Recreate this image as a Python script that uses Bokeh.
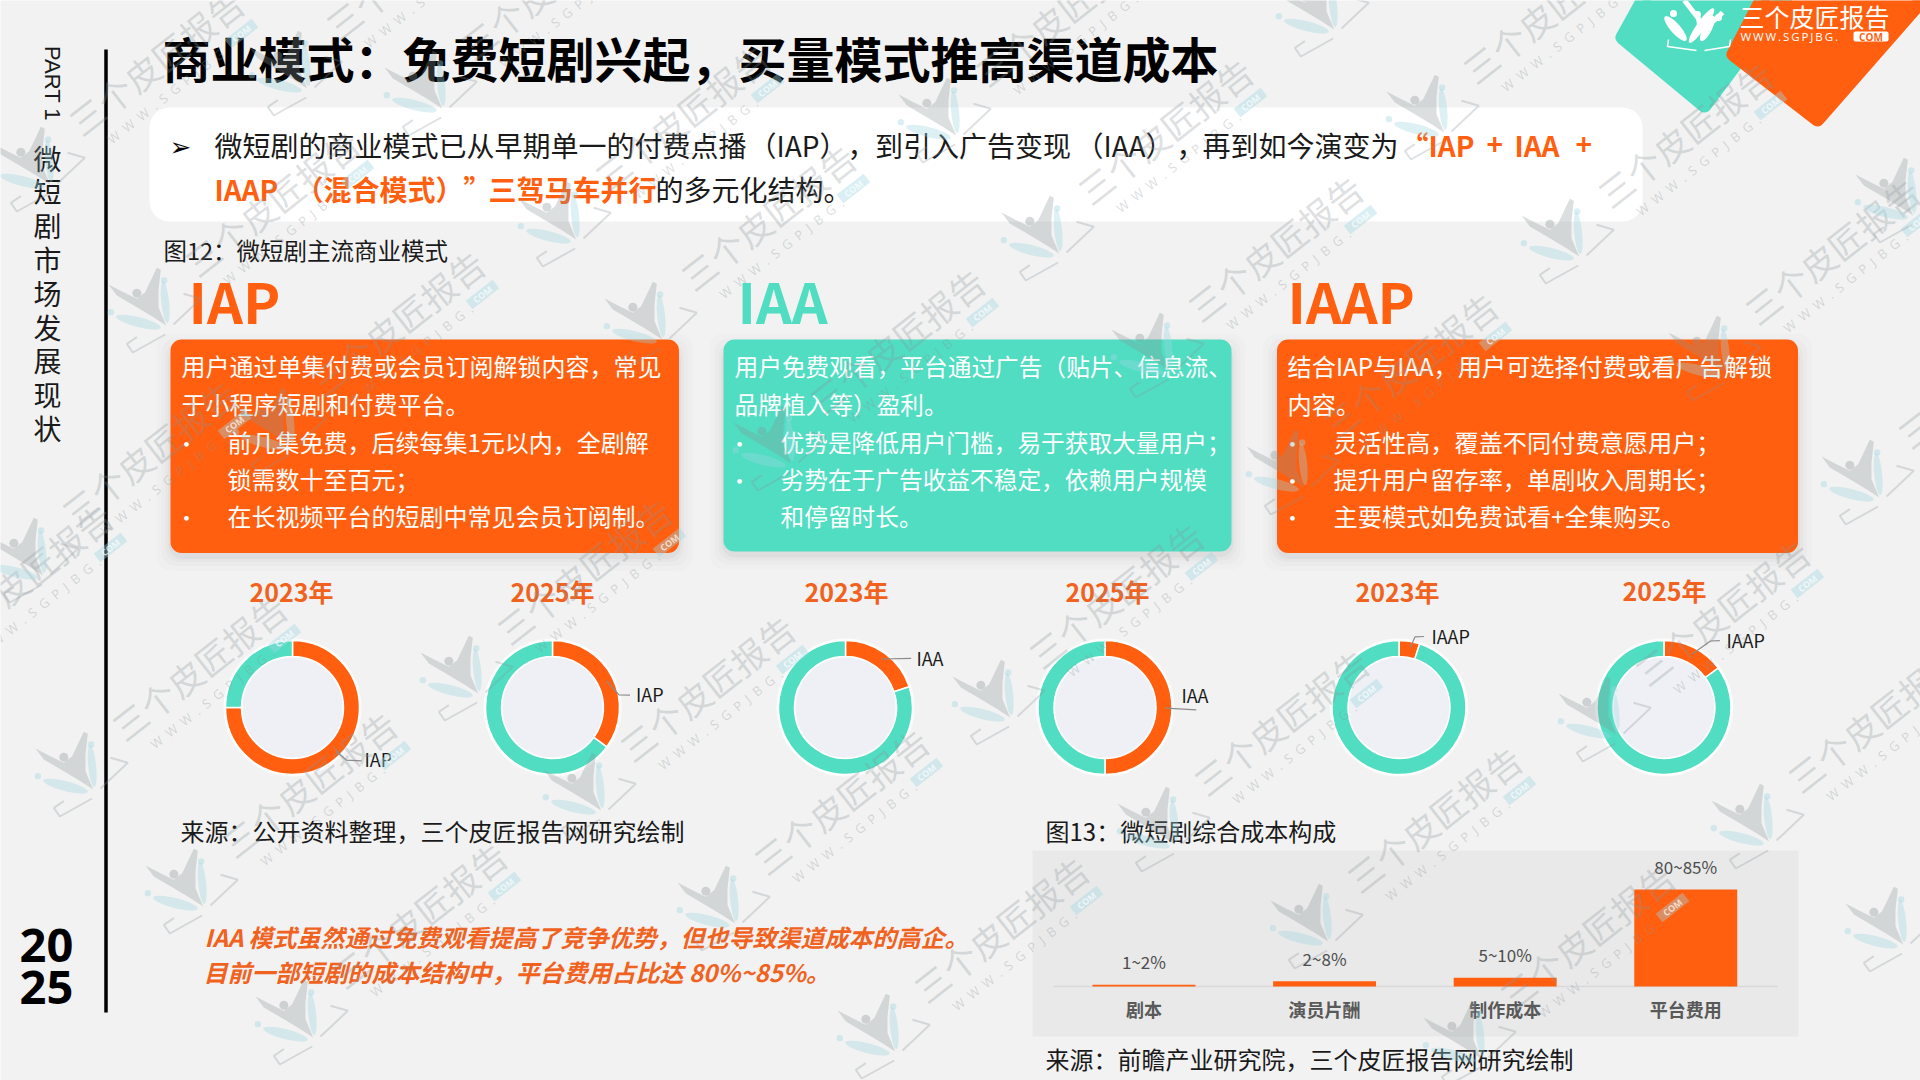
import math
from bokeh.plotting import figure
from bokeh.models import Range1d
from bokeh.core.properties import value
from bokeh.embed import file_html
from bokeh.resources import INLINE

# donuts: share of the orange slice, in percent
donut_modes = ["IAP", "IAP", "IAA", "IAA", "IAAP", "IAAP"]
donut_years = ["2023年", "2025年", "2023年", "2025年", "2023年", "2025年"]
donut_shares = [75, 35, 20, 50, 5, 15]

# cost bars
cost_names = ["剧本", "演员片酬", "制作成本", "平台费用"]
cost_labels = ["1~2%", "2~8%", "5~10%", "80~85%"]
cost_values = [1.5, 4.5, 7.5, 82.5]

title = "商业模式：免费短剧兴起，买量模式推高渠道成本"
side_chars = list("微短剧市场发展现状")
iap_lines = ["用户通过单集付费或会员订阅解锁内容，常见", "于小程序短剧和付费平台。",
             "前几集免费，后续每集1元以内，全剧解", "锁需数十至百元；", "在长视频平台的短剧中常见会员订阅制。"]
iaa_lines = ["用户免费观看，平台通过广告（贴片、信息流、", "品牌植入等）盈利。",
             "优势是降低用户门槛，易于获取大量用户；", "劣势在于广告收益不稳定，依赖用户规模", "和停留时长。"]
iaap_lines = ["结合IAP与IAA，用户可选择付费或看广告解锁", "内容。",
              "灵活性高，覆盖不同付费意愿用户；", "提升用户留存率，单剧收入周期长；", "主要模式如免费试看+全集购买。"]

ORANGE = "#FF5F0F"
TEAL = "#50DDC2"
CJK = "Noto Sans CJK SC"

p = figure(width=1920, height=1080, x_range=(0, 1920), y_range=(1080, 0),
           x_axis_location=None, y_axis_location=None,
           output_backend="svg", toolbar_location=None, min_border=0,
           background_fill_color="#F2F2F2", border_fill_color="#F2F2F2")
p.grid.visible = False
p.outline_line_color = None
# the bars get their own scales
p.extra_x_ranges["cost_x"] = Range1d(-6.332, 4.300)
p.extra_y_ranges["cost_y"] = Range1d(-79.93, 838.44)


def label(x, y, s, size, color="#1A1A1A", style="normal", align="left", font=CJK, angle=0, alpha=1.0):
    # middle baseline of the CJK font sits a little low
    p.text(x=[x], y=[y - 3], text=[s], text_font=value(font), text_font_size="%spx" % size,
           text_color=color, text_font_style=style, text_align=align, text_baseline="middle",
           angle=angle, text_alpha=alpha)


def card(left, right, top, bottom, color):
    for grow, a in [(14, 0.012), (9, 0.016), (5, 0.02), (2, 0.03)]:
        p.quad(left=left - grow, right=right + grow, top=top - grow + 8, bottom=bottom + grow + 4,
               fill_color="#000000", fill_alpha=a, line_color=None, border_radius=14)
    p.quad(left=left, right=right, top=top, bottom=bottom, fill_color=color, line_color=None, border_radius=11)


# logo corner
p.patch([1648, 1622, 1704, 1790], [-10, 37, 105, -10], fill_color=TEAL, line_color=TEAL, line_width=14, line_join="round")
p.patch([1766, 1733, 1817, 1930], [-10, 54, 119, -10], fill_color=ORANGE, line_color=ORANGE, line_width=14, line_join="round")
p.ellipse(x=[1675, 1707, 1701], y=[28, 28, 25], width=[32, 28, 42], height=[10, 9, 9],
          angle=[-0.85, 1.1, 0.95], fill_color="#FFFFFF", line_color=None)
p.multi_line([[1684, 1698, 1700], [1700, 1716, 1722]], [[0, 18, 30], [30, 18, 12]], line_color="#FFFFFF", line_width=5)
p.circle(x=[1673, 1697, 1718], y=[13, 14, 17], radius=3.5, fill_color="#FFFFFF", line_color=None)
p.multi_line([[1668, 1667, 1696], [1730, 1729, 1704]], [[39, 46, 50], [39, 46, 50]], line_color="#FFFFFF", line_width=1.5)
label(1739, 18, "三个皮匠报告", 25, "#FFFFFF")
label(1740, 39, "W\u2009W\u2009W\u2009.\u2009S\u2009G\u2009P\u2009J\u2009B\u2009G\u2009.", 11.5, "#FFFFFF", font="Open Sans")
p.quad(left=1853, right=1888, top=31, bottom=41, fill_color="#FFFFFF", line_color=None, border_radius=2)
label(1870.5, 39, "COM", 10, ORANGE, "bold", "center", "Open Sans")

# left rail
p.segment(x0=[105.5], y0=[49], x1=[105.5], y1=[1012], line_color="#000000", line_width=3.5)
label(52, 86, "PART 1", 22, "#1A1A1A", align="center", font="Liberation Sans", angle=-math.pi / 2)
for i, ch in enumerate(side_chars):
    label(47, 160 + 33.8 * i, ch, 28, align="center")
label(46, 948, "20", 47, "#000000", "bold", "center", "Noto Sans")
label(46, 990, "25", 47, "#000000", "bold", "center", "Noto Sans")

# heading
label(162, 59, title, 48, "#000000", "bold")
p.quad(left=149, right=1642, top=107, bottom=221, fill_color="#FFFFFF", line_color=None, border_radius=20)
label(180, 149, "➢", 26, "#000000", align="center", font="DejaVu Sans")
for x, s in [(214, "微短剧的商业模式已从早期单一的付费点播"), (748, "（IAP）"), (847, "，"), (874.5, "到引入广告变现"),
             (1075, "（IAA）"), (1176, "，"), (1202, "再到如今演变为")]:
    label(x, 147, s, 28)
for x, s in [(1400, "“IAP"), (1486, "+"), (1514, "IAA"), (1575, "+")]:
    label(x, 147, s, 28, ORANGE, "bold")
for x, s in [(214, "IAAP"), (295, "（混合模式）"), (463, "”"), (488, "三驾马车并行")]:
    label(x, 191, s, 28, ORANGE, "bold")
label(655, 191, "的多元化结构。", 28)
label(163, 252, "图12：微短剧主流商业模式", 23.5)

# three mode cards
for x, name, color in [(188, "IAP", ORANGE), (737, "IAA", TEAL), (1287, "IAAP", ORANGE)]:
    label(x, 302, name, 56, color, "bold")
card(170, 678.5, 339, 552.5, ORANGE)
card(723, 1231, 339, 551, TEAL)
card(1276.5, 1797.5, 339, 552.5, ORANGE)

line_y = [368, 406, 444, 481, 518]
# bullets sit on the lines listed for each card
for x0, lines, bullet_rows, size in [(181, iap_lines, [2, 4], 24), (734, iaa_lines, [2, 3], 23.7), (1287, iaap_lines, [2, 3, 4], 24.2)]:
    for row, line in enumerate(lines):
        indented = row >= 2
        label(x0 + 46 if indented else x0, line_y[row], line, size, "#FFFFFF")
    for row in bullet_rows:
        label(x0 + 5, line_y[row], "•", 22, "#FFFFFF", align="center")

# donuts
donut_x = [292, 552, 845, 1104.5, 1398.5, 1663.5]
donut_cy = 707
year_x = [291, 552, 846, 1107, 1397, 1664]
year_y = [593, 593, 593, 593, 593, 592]
start = math.pi / 2
for cx, share, year, yx, yy in zip(donut_x, donut_shares, donut_years, year_x, year_y):
    mid = start - 2 * math.pi * share / 100
    p.circle(x=[cx], y=[donut_cy], radius=69, fill_color="#FFFFFF", fill_alpha=0.75, line_color=None)
    p.annular_wedge(x=[cx], y=[donut_cy], inner_radius=51, outer_radius=67, start_angle=start, end_angle=mid,
                    direction="clock", fill_color=ORANGE, line_color="#FFFFFF", line_width=1.5)
    p.annular_wedge(x=[cx], y=[donut_cy], inner_radius=51, outer_radius=67, start_angle=mid, end_angle=start - 2 * math.pi,
                    direction="clock", fill_color=TEAL, line_color="#FFFFFF", line_width=1.5)
    p.circle(x=[cx], y=[donut_cy], radius=50, fill_color="#EEF0F5", line_color=None)
    label(yx, yy, year, 25, "#F0621E", "bold", "center")

tag_x = [364, 635.5, 916, 1181, 1431, 1726]
tag_y = [761, 696, 660, 697, 638, 642]
leader_x = [[335.6, 346, 361], [606, 618.5, 629.5], [880.6, 910.6], [1165, 1195.8], [1410, 1414.4, 1423.6], [1691.8, 1710, 1719.3]]
leader_y = [[750.7, 759.7, 760.4], [680.5, 694.3, 694.6], [658.5, 657.8], [707.7, 709.4], [646.7, 636.4, 636], [653.6, 640.5, 640.2]]
p.multi_line(leader_x, leader_y, line_color="#8C8C8C", line_width=1.2)
for x, y, name in zip(tag_x, tag_y, donut_modes):
    label(x, y, name, 18)

label(180, 833, "来源：公开资料整理，三个皮匠报告网研究绘制", 24)
label(1045, 833, "图13：微短剧综合成本构成", 24)
label(1045, 1061, "来源：前瞻产业研究院，三个皮匠报告网研究绘制", 24)
label(204, 939, "IAA 模式虽然通过免费观看提高了竞争优势，但也导致渠道成本的高企。", 24, "#F0621E", "bold italic")
label(203, 974, "目前一部短剧的成本结构中，平台费用占比达 80%~85%。", 24, "#F0621E", "bold italic")

# cost chart
p.quad(left=1032, right=1798, top=850, bottom=1036, fill_color="#E9E9E9", line_color=None)
p.segment(x0=[1053], y0=[986], x1=[1777.5], y1=[986], line_color="#D9D9D9", line_width=1.5)
cost_x = list(range(len(cost_values)))
p.vbar(x=cost_x, top=cost_values, bottom=0, width=0.57, fill_color=ORANGE, line_color=None,
       x_range_name="cost_x", y_range_name="cost_y")
p.text(x=cost_x, y=cost_values, text=cost_labels, y_offset=-23, text_font=value(CJK), text_font_size="17px",
       text_color="#4D4D4D", text_align="center", text_baseline="middle",
       x_range_name="cost_x", y_range_name="cost_y")
p.text(x=cost_x, y=[0] * 4, text=cost_names, y_offset=22, text_font=value(CJK), text_font_size="18px",
       text_color="#595959", text_font_style="bold", text_align="center", text_baseline="middle",
       x_range_name="cost_x", y_range_name="cost_y")

# watermark tiles, positions of each butterfly
mark_x = [37, 153, 278, 294, 429, 563, 649, 778, 943, 1046, 1156, 1291, 1321, 1431, 1566, 1713, 1866,
          -94, 80, 190, 300, 465, 588, 722, 882, 997, 1162, 1315, 1468, 1603, 1756, 1890, 30, 1900]
mark_y = [169, 310, 430, 73, 93, 224, 324, 448, 120, 238, 355, 472, 14, 117, 241, 358, 482,
          683, 774, 891, 1022, 678, 795, 908, 1036, 702, 829, 926, 1043, 719, 826, 929, 560, 200]
person = [(15, 172), (60, 195), (100, 215), (125, 195), (160, 122), (172, 128), (165, 190), (165, 240),
          (188, 295), (150, 270), (100, 240), (40, 205)]
chevrons = [[(100, 330), (70, 350), (88, 376), (185, 322)], [(240, 200), (292, 215), (210, 292)]]
W_ANG = math.radians(38)
for mx, my in zip(mark_x, mark_y):
    px = [mx + (a - 150) / 3 for a, b in person]
    py = [my + (b - 250) / 3 for a, b in person]
    p.patch(px, py, fill_color="#8A9499", fill_alpha=0.3, line_color=None)
    p.circle(x=[mx - 50 / 3], y=[my - 52 / 3], radius=4.5, fill_color="#8A9499", fill_alpha=0.35, line_color=None)
    p.ellipse(x=[mx + 35 / 3, mx - 45 / 3], y=[my - 25 / 3, my + 35 / 3], width=[8, 46], height=[42, 10],
              angle=[0.1, -0.25], fill_color="#9FD8E2", fill_alpha=0.35, line_color=None)
    p.circle(x=[mx + 32 / 3, mx - 128 / 3], y=[my - 90 / 3, my + 5 / 3], radius=3.2, fill_color="#9FD8E2", fill_alpha=0.4, line_color=None)
    p.multi_line([[mx + (a - 150) / 3 for a, b in c] for c in chevrons], [[my + (b - 250) / 3 for a, b in c] for c in chevrons],
                 line_color="#8A9499", line_alpha=0.28, line_width=2)
    tx, ty = mx + 118, my - 108
    label(tx, ty + 3, "三个皮匠报告", 35, "#8A9499", align="center", angle=W_ANG, alpha=0.3)
    label(tx + 14, ty + 35, "W\u2002W\u2002W\u2002.\u2002S\u2002G\u2002P\u2002J\u2002B\u2002G\u2002.", 13, "#8A9499",
          align="center", font="Open Sans", angle=W_ANG, alpha=0.32)
    p.rect(x=[tx + 86], y=[ty - 28], width=34, height=11, angle=W_ANG, fill_color="#9FD8E2", fill_alpha=0.4, line_color=None)
    label(tx + 86, ty - 25, "COM", 9, "#FFFFFF", "bold", "center", "Open Sans", angle=W_ANG, alpha=0.7)

open("out.html", "w").write(file_html(p, INLINE))
